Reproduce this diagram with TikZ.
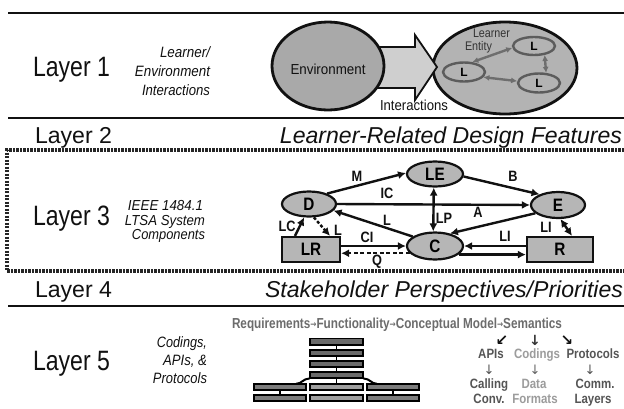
\documentclass[tikz,border=0pt]{standalone}
\usepackage{fontspec}
\usepackage{graphicx}
\setmainfont{Liberation Sans}
\newfontfamily\dejavu{DejaVu Sans}
\usetikzlibrary{arrows.meta,shapes.geometric,calc}
\newcommand\fitw[2]{\resizebox{#1}{\height}{#2}}
\newcommand\nar[1]{\scalebox{0.85}[1]{#1}}
\newcommand\smarrow{{\dejavu\fontsize{9}{9}\selectfont\raisebox{0.5pt}{→}}}
\definecolor{ink}{HTML}{111111}
\definecolor{gEnv}{HTML}{A9A9A9}
\definecolor{gLrn}{HTML}{B3B3B3}
\definecolor{gArrow}{HTML}{CFCFCF}
\definecolor{gNode}{HTML}{B6B6B6}
\definecolor{lStroke}{HTML}{5C5C5C}
\definecolor{lLink}{HTML}{6E6E6E}
\definecolor{tDark}{HTML}{555555}
\definecolor{tMid}{HTML}{6C6C6C}
\definecolor{tLight}{HTML}{9C9C9C}
\definecolor{barDark}{HTML}{6A6A6A}
\definecolor{barMid}{HTML}{7C7C7C}
\definecolor{barLight}{HTML}{9E9E9E}
\newcommand\mybar[5]{%
  \fill[black] (#1,#2) rectangle (#3,#4);
  \fill[#5] ({#1+1.6},{#2+1.6}) rectangle ({#3-1.6},{#4-1.6});}
\begin{document}
\begin{tikzpicture}[x=1pt,y=-1pt,
  txt/.style={inner sep=0pt,outer sep=0pt,text=ink},
  rulel/.style={line width=2.8pt,draw=ink},
  dotrule/.style={line width=3.2pt,draw=black!85,dash pattern=on 2.2pt off 1.3pt},
  bigell/.style={ellipse,draw=ink,line width=2.8pt,inner sep=0pt},
  lell/.style={ellipse,draw=lStroke,line width=2.4pt,fill=gLrn,inner sep=0pt,
    minimum width=42pt,minimum height=19pt,font=\bfseries\fontsize{12}{12}\selectfont},
  lnk/.style={draw=lLink,line width=2.4pt,{Latex[length=6pt,width=6pt]}-{Latex[length=6pt,width=6pt]}},
  comp/.style={ellipse,draw=ink,line width=2.2pt,fill=gNode,inner sep=0pt,
    font=\bfseries\fontsize{18}{18}\selectfont},
  compbox/.style={rectangle,draw=ink,line width=2.2pt,fill=gNode,inner sep=0pt,
    font=\bfseries\fontsize{18}{18}\selectfont},
  arr/.style={draw=ink,line width=2.4pt,-{Latex[length=8pt,width=8pt]}},
  darr/.style={draw=ink,line width=2.4pt,{Latex[length=8pt,width=8pt]}-{Latex[length=8pt,width=8pt]}},
  lbl/.style={txt,font=\bfseries\fontsize{15}{15}\selectfont},
  r5/.style={txt,anchor=base,font=\bfseries\fontsize{13.5}{13.5}\selectfont}
]
\useasboundingbox (0,0) rectangle (624,408);
\fill[white] (0,0) rectangle (624,408);

% ---------- rules ----------
\draw[rulel] (8,13) -- (624,13);
\draw[rulel] (8,118) -- (624,118);
\draw[rulel] (8,306) -- (624,306);
\draw[dotrule] (624,150) -- (7,150) -- (7,271) -- (624,271);

% ---------- layer labels ----------
\node[txt,anchor=base west] (lay1) at (33,76) {\fontsize{28}{28}\selectfont\fitw{77pt}{Layer 1}};
\node[txt,anchor=base west] (lay2) at (35,143) {\fontsize{23}{23}\selectfont\fitw{77pt}{Layer 2}};
\node[txt,anchor=base west] (lay3) at (33,225) {\fontsize{28}{28}\selectfont\fitw{77pt}{Layer 3}};
\node[txt,anchor=base west] (lay4) at (35,297) {\fontsize{23}{23}\selectfont\fitw{77pt}{Layer 4}};
\node[txt,anchor=base west] (lay5) at (33,370) {\fontsize{28}{28}\selectfont\fitw{77pt}{Layer 5}};

\node[txt,anchor=base east] (head2) at (622,143) {\fontsize{23}{23}\selectfont\itshape\fitw{342pt}{Learner-Related Design Features}};
\node[txt,anchor=base east] (head4) at (623,297) {\fontsize{23}{23}\selectfont\itshape\fitw{358pt}{Stakeholder Perspectives/Priorities}};

% ---------- side captions ----------
\node[txt,anchor=base east] (c1a) at (210,57) {\fontsize{15}{15}\selectfont\itshape\fitw{50pt}{Learner/}};
\node[txt,anchor=base east] (c1b) at (210,76) {\fontsize{15}{15}\selectfont\itshape\fitw{75pt}{Environment}};
\node[txt,anchor=base east] (c1c) at (210,95) {\fontsize{15}{15}\selectfont\itshape\fitw{68pt}{Interactions}};

\node[txt,anchor=base east] (c3a) at (203,210) {\fontsize{14.5}{14.5}\selectfont\itshape\fitw{75pt}{IEEE 1484.1}};
\node[txt,anchor=base east] (c3b) at (205,225) {\fontsize{14.5}{14.5}\selectfont\itshape\fitw{80pt}{LTSA System}};
\node[txt,anchor=base east] (c3c) at (205,239) {\fontsize{14.5}{14.5}\selectfont\itshape\fitw{73pt}{Components}};

\node[txt,anchor=base east] (c5a) at (207,347) {\fontsize{15}{15}\selectfont\itshape\fitw{50pt}{Codings,}};
\node[txt,anchor=base east] (c5b) at (207,365) {\fontsize{15}{15}\selectfont\itshape\fitw{44pt}{APIs, \&}};
\node[txt,anchor=base east] (c5c) at (207,383) {\fontsize{15}{15}\selectfont\itshape\fitw{54pt}{Protocols}};

% ---------- Layer 1 picture ----------
\node[bigell,fill=gLrn,minimum width=144pt,minimum height=92pt] (lrn) at (505,68) {};
\draw[draw=ink,line width=1.8pt,fill=gArrow]
  (378,47) -- (415,47) -- (415,35) -- (437,67) -- (415,100) -- (415,88) -- (378,88) -- cycle;
\node[bigell,fill=gEnv,minimum width=112pt,minimum height=88pt] (env) at (328,66) {};
\node[txt,anchor=base] (envt) at (328,74) {\fontsize{14.5}{14.5}\selectfont\fitw{75pt}{Environment}};
\node[txt,anchor=base west] (inter) at (380,110) {\fontsize{14.5}{14.5}\selectfont\fitw{68pt}{Interactions}};
\node[txt,anchor=base west,text=black!80] (lrnA) at (473,37) {\fontsize{12.5}{12.5}\selectfont\fitw{37pt}{Learner}};
\node[txt,anchor=base west,text=black!80] (lrnB) at (465,50) {\fontsize{12.5}{12.5}\selectfont\fitw{27pt}{Entity}};
\node[lell,minimum height=18pt] (la) at (534,46) {L};
\node[lell] (lb) at (464,72) {L};
\node[lell] (lc) at (539,83) {L};
\draw[lnk] (lb.50) -- (la.185);
\draw[lnk] (la.-40) -- (lc.55);
\draw[lnk] (lb.-15) -- (lc.175);

% ---------- Layer 3 LTSA ----------
\node[comp,minimum width=54pt,minimum height=25pt] (D) at (309,204) {\nar{D}};
\node[comp,minimum width=56pt,minimum height=25pt] (LE) at (435,174) {\nar{LE}};
\node[comp,minimum width=54pt,minimum height=26pt] (E) at (558,205) {\nar{E}};
\node[comp,minimum width=56pt,minimum height=27pt] (C) at (435,246) {\nar{C}};
\node[compbox,minimum width=58pt,minimum height=25pt] (LR) at (311,249.5) {\nar{LR}};
\node[compbox,minimum width=66pt,minimum height=25pt] (R) at (560,249.5) {\nar{R}};

\draw[arr] (D.30) -- (LE.178);
\draw[arr] (LE.-5) -- (E.150);
\draw[arr] (D.east) -- (E.west);
\draw[arr] (C.157) -- (D.-15);
\draw[darr] (LE.265) -- (C.97);
\draw[arr] (E.200) -- (C.40);
\draw[arr] (LR.east |- C.west) -- (C.west);
\draw[arr,dash pattern=on 4pt off 2.5pt] (C.196) -- (C.196 -| LR.east);
\draw[arr] (R.west |- C.east) -- (C.east);
\draw[arr] (C.-20) -- (C.-20 -| R.west);
\draw[arr] ([xshift=-16pt]LR.north) -- (D.250);
\draw[arr,dash pattern=on 3pt off 2pt] (D.290) -- ([xshift=19pt]LR.north);
\draw[darr] (E.280) -- ([xshift=12pt]R.north);

\node[lbl] (tM) at (357,176) {\nar{M}};
\node[lbl] (tB) at (513,176) {\nar{B}};
\node[lbl] (tIC) at (387,193) {\nar{IC}};
\node[lbl] (tL1) at (387,220) {\nar{L}};
\node[lbl] (tLP) at (444,218) {\nar{LP}};
\node[lbl] (tA) at (478,212) {\nar{A}};
\node[lbl] (tCI) at (367,237) {\nar{CI}};
\node[lbl] (tQ) at (377,261.5) {\nar{Q}};
\node[lbl] (tLI1) at (505,236) {\nar{LI}};
\node[lbl] (tLC) at (287,226) {\nar{LC}};
\node[lbl] (tL2) at (338,230) {\nar{L}};
\node[lbl] (tLI2) at (546,227) {\nar{LI}};

% ---------- Layer 5 ----------
\node[txt,anchor=base west,text=tMid] (req) at (232,328)
  {\bfseries\fontsize{14.5}{14.5}\selectfont\fitw{330pt}{Requirements\smarrow Functionality\smarrow Conceptual Model\smarrow Semantics}};

% stacked bars
\draw[black,line width=1.5pt] (336.5,345) -- (336.5,384);
\draw[black,line width=1.5pt] (280,390) -- (280,395);
\draw[black,line width=1.5pt] (393,390) -- (393,395);
\mybar{309}{337.5}{364}{345.5}{barDark}
\mybar{309}{349}{364}{357}{barDark}
\mybar{309}{360}{364}{367.5}{barDark}
\mybar{309}{371}{364}{379}{barDark}
\mybar{253}{383}{307}{391}{barMid}
\mybar{309}{383}{364}{391}{barLight}
\mybar{366}{383}{420}{391}{barMid}
\mybar{253}{394}{307}{402}{barMid}
\mybar{309}{394}{364}{402}{barLight}
\mybar{366}{394}{420}{402}{barMid}
\draw[black,line width=2pt] (296,383.8) .. controls (302,383.8) and (303,378.5) .. (309.5,378.5);
\draw[black,line width=2pt] (377,383.8) .. controls (371,383.8) and (370,378.5) .. (363.5,378.5);

% derived artefacts
\node[txt,anchor=base,text=ink] (dA) at (502,345) {\dejavu\bfseries\fontsize{15}{15}\selectfont ↙};
\node[txt,anchor=base,text=black!80] (dB) at (535,345) {\dejavu\bfseries\fontsize{14}{14}\selectfont ↓};
\node[txt,anchor=base,text=ink] (dC) at (567,345) {\dejavu\bfseries\fontsize{15}{15}\selectfont ↘};

\node[r5,text=tDark] (apis) at (491,358) {\nar{APIs}};
\node[r5,text=tLight] (codings) at (537,358) {\nar{Codings}};
\node[r5,text=tDark] (protocols) at (593,358) {\nar{Protocols}};

\node[txt,anchor=base,text=tDark] (aA) at (489,374) {\dejavu\fontsize{13}{13}\selectfont ↓};
\node[txt,anchor=base,text=black!60] (aB) at (535,374) {\dejavu\fontsize{13}{13}\selectfont ↓};
\node[txt,anchor=base,text=tDark] (aC) at (590,374) {\dejavu\fontsize{13}{13}\selectfont ↓};

\node[r5,text=tDark] (calling) at (489,388) {\nar{Calling}};
\node[r5,text=tLight] (data) at (534,388) {\nar{Data}};
\node[r5,text=tDark] (comm) at (595,388) {\nar{Comm.}};
\node[r5,text=tDark] (conv) at (489,403) {\nar{Conv.}};
\node[r5,text=tLight] (formats) at (535,403) {\nar{Formats}};
\node[r5,text=tDark] (layers) at (593,403) {\nar{Layers}};
\end{tikzpicture}
\end{document}
